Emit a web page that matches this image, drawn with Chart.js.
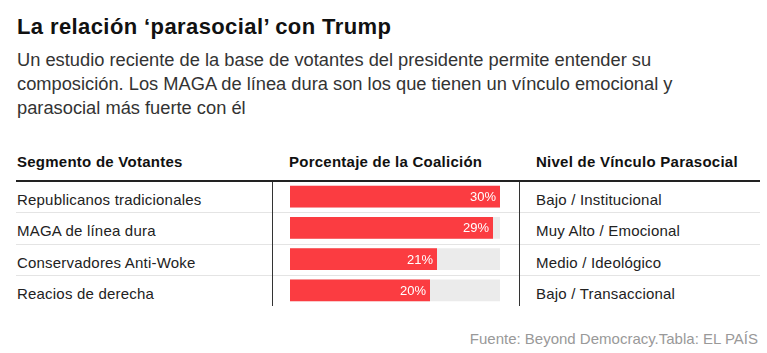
<!DOCTYPE html>
<html lang="es">
<head>
  <meta charset="UTF-8">
  <title>La relación parasocial con Trump</title>
  <script src="https://cdn.jsdelivr.net/npm/chart.js"></script>
  <style>
    body {
      margin: 0;
      width: 767px;
      height: 353px;
      background: #ffffff;
      font-family: "Liberation Sans", Arial, sans-serif;
      color: #222;
      position: relative;
      overflow: hidden;
    }
    .title {
      position: absolute;
      left: 17px;
      top: 16px;
      font-size: 22px;
      line-height: 22px;
      letter-spacing: 0.4px;
      font-weight: bold;
      color: #111;
      white-space: nowrap;
    }
    .subtitle {
      position: absolute;
      left: 17px;
      top: 48px;
      width: 690px;
      font-size: 18.3px;
      line-height: 24px;
      color: #333;
    }
    .head {
      position: absolute;
      top: 154px;
      font-size: 15px;
      line-height: 15px;
      letter-spacing: 0.25px;
      font-weight: bold;
      color: #111;
      white-space: nowrap;
    }
    .cell {
      position: absolute;
      font-size: 15px;
      letter-spacing: 0.2px;
      color: #222;
      white-space: nowrap;
    }
    .hline {
      position: absolute;
      left: 16px;
      width: 744px;
      height: 1px;
      background: #e4e4e4;
    }
    .vline {
      position: absolute;
      top: 181px;
      width: 1px;
      height: 125px;
      background: #333;
    }
    #chartBox {
      position: absolute;
      left: 290px;
      top: 181px;
      width: 210px;
      height: 125px;
    }
    .source {
      position: absolute;
      right: 9px;
      top: 331px;
      font-size: 15px;
      line-height: 15px;
      color: #999;
      white-space: nowrap;
    }
  </style>
</head>
<body>
  <div class="title">La relación ‘parasocial’ con Trump</div>
  <div class="subtitle">Un estudio reciente de la base de votantes del presidente permite entender su composición. Los MAGA de línea dura son los que tienen un vínculo emocional y parasocial más fuerte con él</div>

  <div class="head" style="left:17px">Segmento de Votantes</div>
  <div class="head" style="left:289px">Porcentaje de la Coalición</div>
  <div class="head" style="left:536px">Nivel de Vínculo Parasocial</div>

  <div id="rows"></div>

  <div class="vline" style="left:272px"></div>
  <div class="vline" style="left:519px"></div>
  <div class="hline" style="top:180px; height:2px; background:#222"></div>

  <div id="chartBox"><canvas id="barChart" width="210" height="125"></canvas></div>

  <div class="source">Fuente: Beyond Democracy.Tabla: EL PAÍS</div>

  <script>
    const segments = [
      "Republicanos tradicionales",
      "MAGA de línea dura",
      "Conservadores Anti-Woke",
      "Reacios de derecha"
    ];
    const coalitionPct = [30, 29, 21, 20];
    const bondLevels = [
      "Bajo / Institucional",
      "Muy Alto / Emocional",
      "Medio / Ideológico",
      "Bajo / Transaccional"
    ];
    const scaleMax = 30;

    // table text rows
    const tableTop = 181;
    const rowH = 125 / segments.length;
    const rowsEl = document.getElementById("rows");
    segments.forEach((seg, i) => {
      const top = tableTop + i * rowH;
      rowsEl.insertAdjacentHTML("beforeend",
        `<div class="cell" style="left:17px;top:${top + 3}px;line-height:${rowH}px">${seg}</div>` +
        `<div class="cell" style="left:536px;top:${top + 3}px;line-height:${rowH}px">${bondLevels[i]}</div>`);
      if (i > 0) {
        rowsEl.insertAdjacentHTML("beforeend", `<div class="hline" style="top:${Math.round(top)}px"></div>`);
      }
    });

    const valueLabels = {
      id: "valueLabels",
      afterDatasetsDraw(chart) {
        const ctx = chart.ctx;
        const meta = chart.getDatasetMeta(0);
        ctx.save();
        ctx.fillStyle = "#ffffff";
        ctx.font = "13px 'Liberation Sans', Arial, sans-serif";
        ctx.textAlign = "right";
        ctx.textBaseline = "middle";
        meta.data.forEach((bar, i) => {
          ctx.fillText(coalitionPct[i] + "%", bar.x - 4, bar.y + 1);
        });
        ctx.restore();
      }
    };

    new Chart(document.getElementById("barChart"), {
      type: "bar",
      data: {
        labels: segments,
        datasets: [
          {
            data: coalitionPct,
            backgroundColor: "#fb3c41",
            grouped: false,
            order: 1
          },
          {
            data: segments.map(() => scaleMax),
            backgroundColor: "#ebebeb",
            grouped: false,
            order: 2
          }
        ]
      },
      options: {
        indexAxis: "y",
        responsive: false,
        animation: false,
        events: [],
        categoryPercentage: 1,
        barPercentage: 0.7,
        layout: { padding: 0 },
        plugins: {
          legend: { display: false },
          tooltip: { enabled: false }
        },
        scales: {
          x: { display: false, min: 0, max: scaleMax },
          y: { display: false }
        }
      },
      plugins: [valueLabels]
    });
  </script>
</body>
</html>
